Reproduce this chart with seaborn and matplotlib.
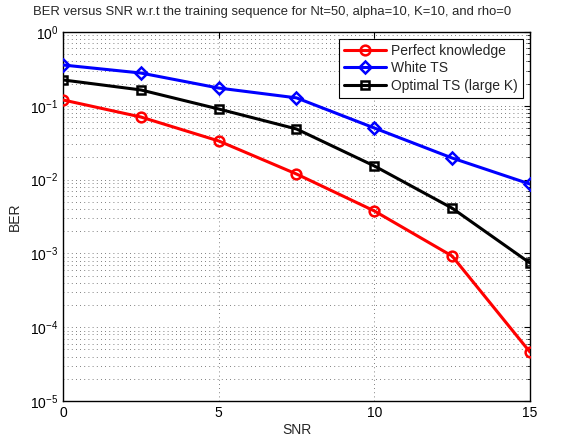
import numpy as np
import pandas as pd
import matplotlib
matplotlib.use("Agg")
import matplotlib.pyplot as plt
import seaborn as sns
from matplotlib.ticker import LogLocator, FixedLocator

snr = [0, 2.5, 5, 7.5, 10, 12.5, 15]
perfect = [0.12, 0.0705, 0.0334, 0.0119, 0.00376, 0.00092, 4.6e-5]
white_ts = [0.357, 0.278, 0.174, 0.128, 0.050, 0.0196, 0.0087]
optimal_ts = [0.224, 0.164, 0.0905, 0.0485, 0.0153, 0.0041, 0.00074]

labels = ["Perfect knowledge", "White TS", "Optimal TS (large K)"]
colors = ["#ff0000", "#0000ff", "#000000"]
markers = ["o", "D", "s"]
msizes = [7, 6, 6]

sns.set_style("white")
plt.rcParams["font.family"] = ["Liberation Sans", "DejaVu Sans"]
plt.rcParams["mathtext.fontset"] = "custom"
plt.rcParams["mathtext.rm"] = "Liberation Sans"
plt.rcParams["mathtext.it"] = "Liberation Sans"
plt.rcParams["mathtext.default"] = "regular"

fig = plt.figure(figsize=(5.75, 4.37), dpi=100)
ax = fig.add_axes([0.1096, 0.0824, 0.8121, 0.8444])

df = pd.DataFrame({"SNR": snr * 3,
                   "BER": perfect + white_ts + optimal_ts,
                   "series": sum([[l] * len(snr) for l in labels], [])})

for lab, c, m, ms in zip(labels, colors, markers, msizes):
    sub = df[df["series"] == lab]
    sns.lineplot(data=sub, x="SNR", y="BER", ax=ax, color=c, lw=2.2,
                 marker=m, markersize=ms, markerfacecolor="none",
                 markeredgecolor=c, markeredgewidth=1.8, label=lab,
                 zorder=3)

ax.set_yscale("log")
ax.set_xlim(0, 15)
ax.set_ylim(1e-5, 1)
ax.xaxis.set_major_locator(FixedLocator([0, 5, 10, 15]))
ax.yaxis.set_major_locator(LogLocator(base=10, numticks=10))
ax.yaxis.set_minor_locator(LogLocator(base=10, subs=np.arange(2, 10), numticks=10))

grid_kw = dict(color="#555555", lw=0.6, linestyle=(0, (1, 4)))
ax.grid(True, which="major", axis="both", **grid_kw)
ax.grid(True, which="minor", axis="y", **grid_kw)

ax.tick_params(which="both", direction="in", top=True, right=True,
               labelsize=10, colors="black")
ax.tick_params(which="major", length=4, width=0.8)
ax.tick_params(which="minor", length=2, width=0.6)
for s in ax.spines.values():
    s.set_color("black")
    s.set_linewidth(1.0)

ax.set_xlabel("SNR", fontsize=10, labelpad=2)
ax.set_ylabel("BER", fontsize=10, labelpad=6)
ax.set_title("BER versus SNR w.r.t the training sequence for Nt=50, alpha=10, K=10, and rho=0",
             fontsize=9.35, pad=12, x=0.4475)

leg = ax.legend(loc="upper right", fontsize=10, frameon=True, fancybox=False,
                edgecolor="black", framealpha=1, borderpad=0.35,
                labelspacing=0.25, handlelength=3.0, handletextpad=0.4,
                borderaxespad=0.5)
leg.get_frame().set_linewidth(0.8)

fig.savefig("out.png", dpi=100)
